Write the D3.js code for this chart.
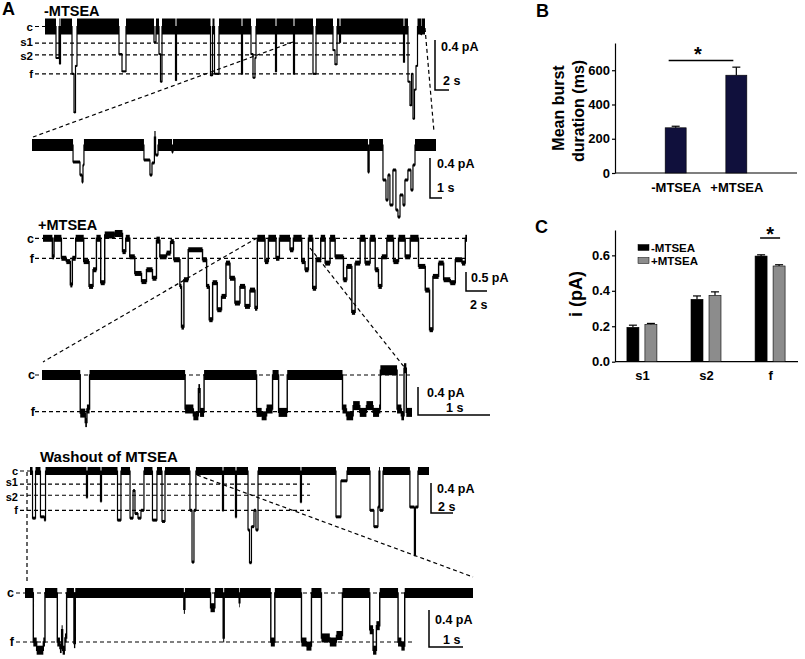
<!DOCTYPE html>
<html><head><meta charset="utf-8">
<script src="https://cdn.jsdelivr.net/npm/d3@7"></script>
<style>
body{margin:0;background:#fff}
svg{display:block;font-family:"Liberation Sans",Arial,Helvetica,sans-serif;font-weight:bold}
</style>
</head><body>
<svg id="fig" width="805" height="659"></svg>
<script>
// ---------- DATA ----------
// Single-channel traces: [time (s), current deflection below closed level (pA)], step-after
const traceMinus = [[0,0],[2.2,0.4],[2.8,0],[2.9,0.47],[3.1,0],[5.4,0.6],[5.8,1.09],[6.1,0.5],[6.4,0],[14.8,0.35],[15.4,0.57],[16.2,0],[21.8,0.2],[22.2,0],[22.8,0.35],[23.1,0.7],[23.4,0],[26.1,0.68],[26.3,0],[33.1,0.62],[33.5,0],[33.9,0.6],[34.8,0],[39.3,0.6],[39.5,0],[41.2,0.35],[41.6,0.65],[42.0,0.4],[42.2,0],[46.1,0.57],[46.3,0],[49.7,0.6],[49.9,0],[53.6,0.6],[54.2,0],[57.6,0.3],[58.0,0.48],[58.4,0],[58.9,0.2],[59.1,0],[71.7,0.45],[71.9,0],[72.6,0.7],[73.0,1.0],[73.3,0.6],[73.6,1.17],[73.9,0.8],[74.2,0.5],[74.5,0],[75.2,0.1],[75.3,0],[76,0]];
const traceMinusZoom = [[0,0],[3.42,0.17],[4.0,0.3],[4.17,0.37],[4.25,0.2],[4.33,0],[9.33,0.15],[9.83,0.3],[10.0,0.18],[10.2,-0.08],[10.3,0.1],[10.5,0],[11.67,0.07],[11.75,0],[28.0,0.27],[28.1,0],[29.25,0.35],[29.5,0.55],[29.67,0.3],[29.83,0.6],[30.08,0.25],[30.33,0.65],[30.5,0.72],[30.67,0.5],[30.92,0.6],[31.08,0.35],[31.33,0.25],[31.58,0.45],[31.75,0.2],[31.92,0],[33.67,0]];
const tracePlus = [[0,0],[0.89,0.5],[1.05,0],[1.75,0.54],[2.22,0.63],[2.6,1.26],[2.79,0.54],[3.11,0],[3.87,0.63],[4.38,1.3],[4.76,0.85],[5.08,0],[5.49,1.2],[5.87,-0.09],[6.83,-0.13],[7.56,0.36],[7.87,0],[8.25,0.5],[8.73,0.95],[9.37,1.17],[9.84,0.85],[10.41,1.08],[10.79,0.05],[11.11,0.5],[11.75,0.4],[12.13,0.09],[12.44,0.58],[13.02,1.3],[13.17,2.4],[13.4,1.12],[13.81,0.31],[15.17,0.58],[15.56,1.3],[15.81,2.2],[16.13,1.2],[16.57,1.93],[16.98,1.57],[17.4,0.67],[17.78,1.08],[18.25,1.75],[18.73,1.3],[19.21,1.84],[19.68,1.4],[20.16,1.89],[20.38,0],[21.11,0.63],[21.43,0],[22.16,0.54],[22.48,0],[23.49,0.31],[23.81,0],[24.6,0.63],[24.92,0.85],[25.24,0],[25.65,1.35],[25.97,0.58],[26.41,0],[26.83,0.67],[27.3,0],[27.78,0.5],[28.57,1.12],[28.89,0.76],[29.37,2.0],[29.68,0.67],[30.16,0],[30.63,0.67],[31.11,0],[31.59,0.85],[31.9,1.3],[32.22,0.5],[32.7,0],[33.33,0.63],[33.81,0],[34.44,0.5],[34.92,0],[35.71,0.76],[36.35,1.4],[36.76,2.47],[37.08,1.03],[37.62,0.67],[38.1,1.12],[38.73,1.2],[39.21,0.58],[39.84,0.67],[40.16,0],[40.32,0]];
const tracePlusZoom = [[0,0],[0.532,0.56],[0.602,0.7],[0.625,0.5],[0.662,0],[1.991,0.5],[2.106,0.6],[2.176,0.2],[2.199,0.55],[2.255,0],[2.986,0.55],[3.056,0.6],[3.125,0.5],[3.208,0],[3.292,0.55],[3.412,0],[4.181,0.5],[4.236,0.6],[4.329,0.45],[4.421,0.55],[4.514,0.45],[4.606,0.55],[4.69,0.5],[4.708,-0.07],[4.94,0.5],[5.0,0.6],[5.037,-0.1],[5.069,0.55],[5.148,0.55]];
const traceWash = [[0,0],[0.22,0.72],[0.48,0],[0.91,0.7],[1.26,0.75],[1.35,0],[4.91,0.4],[5.0,0],[6.13,0.46],[6.22,0],[7.61,0.75],[7.91,0],[8.7,0.72],[8.96,0.3],[9.13,0.65],[9.39,0.72],[9.65,0.6],[9.91,0],[10.65,0.75],[11.04,0],[11.48,0.77],[11.74,0],[13.91,0.6],[14.09,1.39],[14.26,0.6],[14.43,0],[16.74,0.6],[16.83,0],[17.87,0.7],[17.96,0],[18.96,0.9],[19.09,1.4],[19.26,0.85],[19.48,0.6],[19.65,0.9],[19.83,0],[23.52,0.47],[23.61,0],[26.61,0.7],[27.04,0.15],[27.57,0],[29.57,0.6],[29.91,0.85],[30.26,0.55],[30.35,0],[30.43,0.6],[30.7,0],[33.04,0.55],[33.43,1.28],[33.52,0.55],[33.74,0],[34.7,0]];
const traceWashZoom = [[0,0],[0.245,0.6],[0.343,0.7],[0.539,0.6],[0.588,0],[0.951,0.6],[1.029,0.68],[1.078,0.45],[1.108,0.7],[1.176,0.55],[1.225,0],[1.441,0.62],[1.48,0],[4.676,0.2],[4.706,0],[5.461,0.18],[5.588,0],[5.833,0.55],[5.863,0],[6.304,0.12],[6.324,0],[7.235,0.6],[7.353,0],[8.137,0.6],[8.284,0.65],[8.431,0],[8.725,0.55],[8.971,0.6],[9.167,0.52],[9.343,0],[10.147,0.45],[10.245,0.7],[10.343,0.4],[10.441,0],[10.98,0.6],[11.078,0.65],[11.176,0],[13.186,0]];

// Conductance levels (pA) marked by dashed lines
const levelsMinus = [["c",0],["s1",0.21],["s2",0.36],["f",0.6]];
const levelsPlus  = [["c",0],["f",0.54]];
const levelsWash  = [["c",0],["s1",0.2],["s2",0.37],["f",0.6]];
const levelsWashZoom = [["c",0],["f",0.6]];

// Panel B
const burstCategories = ["-MTSEA","+MTSEA"];
const burstMeans = [264, 571];
const burstErrors = [9, 47];
const burstTicks = [0,200,400,600];

// Panel C
const ampCategories = ["s1","s2","f"];
const ampSeries = ["-MTSEA","+MTSEA"];
const ampMinus = [0.194, 0.352, 0.596];
const ampMinusErr = [0.012, 0.019, 0.007];
const ampPlus = [0.210, 0.374, 0.540];
const ampPlusErr = [0.006, 0.020, 0.007];
const ampTicks = [0,0.2,0.4,0.6];

// ---------- DRAWING ----------
const svg = d3.select("#fig");
const ink = "#000";

function drawTrace(data, o){
  const g = svg.append("g");
  const x = d3.scaleLinear().domain([0, data[data.length-1][0]]).range(o.xr);
  const y = d3.scaleLinear().domain([0,1]).range([o.y0, o.y0 + o.k]);
  const iv = data.slice(0,-1).map((d,i)=>({t0:d[0], t1:data[i+1][0], v:d[1]}));
  g.selectAll("rect").data(iv).join("rect")
    .attr("x", d=>x(d.t0)).attr("width", d=>Math.max(0.6, x(d.t1)-x(d.t0)))
    .attr("y", d=>y(d.v) - (d.v<=0.05 ? o.hc : o.ho))
    .attr("height", d=>2*(d.v<=0.05 ? o.hc : o.ho))
    .attr("fill", ink);
  g.append("path").datum(data)
    .attr("d", d3.line().x(d=>x(d[0])).y(d=>y(d[1])).curve(d3.curveStepAfter))
    .attr("fill","none").attr("stroke",ink).attr("stroke-width",o.sw||1.2);
  return {x,y};
}
function drawLevels(levels, y, lab, spans, fs, nudges){
  levels.forEach((l,i)=>{
    const yy = y(l[1]);
    svg.append("line").attr("x1",spans[i][0]).attr("x2",spans[i][1]).attr("y1",yy).attr("y2",yy)
      .attr("stroke",ink).attr("stroke-width",1.2).attr("stroke-dasharray","4,3");
    svg.append("text").attr("x",lab).attr("y",yy + (nudges ? nudges[i] : 0)).attr("dy","0.35em").attr("text-anchor","end")
      .attr("font-size",fs||12.5).text(l[0]);
  });
}
function dashLine(x1,y1,x2,y2){
  svg.append("line").attr("x1",x1).attr("y1",y1).attr("x2",x2).attr("y2",y2)
    .attr("stroke",ink).attr("stroke-width",1.2).attr("stroke-dasharray","4,3");
}
function scaleBar(xv, yTop, yBot, xEnd, t1, p1, t2, p2){
  svg.append("path").attr("d",`M${xv},${yTop}V${yBot}H${xEnd}`).attr("fill","none").attr("stroke",ink).attr("stroke-width",1.5);
  svg.append("text").attr("x",p1[0]).attr("y",p1[1]).attr("font-size",12.5).text(t1);
  svg.append("text").attr("x",p2[0]).attr("y",p2[1]).attr("font-size",12.5).text(t2);
}
function label(t,x,y,fs){ svg.append("text").attr("x",x).attr("y",y).attr("font-size",fs).text(t); }

// Panel A
label("A",2,15,18);
label("-MTSEA",44,16,14.5);
const s1 = drawTrace(traceMinus,{xr:[45,425],y0:26.5,k:78.8,hc:8,ho:1});
drawLevels(levelsMinus, s1.y, 33, [[35,46],[35,411],[35,411],[35,411]], 11.5, [0,-1.5,1.5,0]);
scaleBar(435,40,90,449,"0.4 pA",[441,51],"2 s",[443,85]);
dashLine(293,42,33,137); dashLine(425,28,434,132);

const s2 = drawTrace(traceMinusZoom,{xr:[32,436],y0:145,k:100,hc:6,ho:1.5});
scaleBar(430,158,198,442,"0.4 pA",[437,168],"1 s",[437,192]);

label("+MTSEA",38,230,14.5);
const s3 = drawTrace(tracePlus,{xr:[43,467],y0:238.3,k:37,hc:3.5,ho:2.5,sw:1.4});
drawLevels(levelsPlus, s3.y, 34, [[35,466],[35,466]]);
scaleBar(466,272,291,487,"0.5 pA",[471,282],"2 s",[470,309]);
dashLine(257,238,43,362); dashLine(310,248,405,368);

const s4 = drawTrace(tracePlusZoom,{xr:[42,412],y0:375,k:68,hc:5,ho:4.5,sw:1.4});
drawLevels(levelsPlus, s4.y, 35, [[35,410],[35,410]]);
scaleBar(418,387,415,490,"0.4 pA",[427,397],"1 s",[446,412]);

label("Washout of MTSEA",40,462,15);
const s5 = drawTrace(traceWash,{xr:[30,429],y0:471,k:65.5,hc:4,ho:1.5});
drawLevels(levelsWash, s5.y, 18, [[20,31],[20,310],[20,310],[20,310]], 11, [0,-1.5,1.5,0]);
scaleBar(431,483,513,453,"0.4 pA",[437,493],"2 s",[438,511]);
dashLine(27,472,27,584); dashLine(197,475,473,577);

const s6 = drawTrace(traceWashZoom,{xr:[25,473],y0:593,k:81.7,hc:5,ho:4.5,sw:1.4});
drawLevels(levelsWashZoom, s6.y, 14, [[16,473],[16,413]]);
scaleBar(429,610,647,463,"0.4 pA",[435,624],"1 s",[443,644]);

// Panel B
label("B",536,17,18);
const yB = d3.scaleLinear().domain([0,759]).range([173,43]);
const xB = d3.scalePoint().domain(burstCategories).range([615,797]).padding(1.0);
const gB = svg.append("g");
gB.append("g").attr("transform","translate(615,0)")
  .call(d3.axisLeft(yB).tickValues(burstTicks).tickSize(3).tickSizeOuter(0).tickPadding(2))
  .call(g=>g.selectAll("text").attr("font-size",13).attr("fill",ink).attr("font-family",null))
  .call(g=>g.selectAll("path,line").attr("stroke",ink).attr("stroke-width",1.2));
gB.append("g").attr("transform","translate(0,173)")
  .call(d3.axisBottom(xB).tickSize(0).tickSizeOuter(0).tickPadding(10))
  .call(g=>g.selectAll("text").attr("font-size",13).attr("fill",ink).attr("font-family",null))
  .call(g=>g.select(".domain").attr("d","M615,0H797").attr("stroke",ink).attr("stroke-width",1.2));
const bw = 21;
burstCategories.forEach((c,i)=>{
  const cx = xB(c);
  gB.append("line").attr("x1",cx).attr("x2",cx).attr("y1",yB(burstMeans[i])).attr("y2",yB(burstMeans[i]+burstErrors[i])).attr("stroke",ink).attr("stroke-width",1.2);
  gB.append("line").attr("x1",cx-4).attr("x2",cx+4).attr("y1",yB(burstMeans[i]+burstErrors[i])).attr("y2",yB(burstMeans[i]+burstErrors[i])).attr("stroke",ink).attr("stroke-width",1.2);
  gB.append("rect").attr("x",cx-bw/2).attr("width",bw).attr("y",yB(burstMeans[i])).attr("height",yB(0)-yB(burstMeans[i]))
    .attr("fill","#10103c").attr("stroke","#000").attr("stroke-width",0.6);
});
gB.append("line").attr("x1",xB(burstCategories[0])-7).attr("x2",xB(burstCategories[1])-3).attr("y1",60.5).attr("y2",60.5).attr("stroke",ink).attr("stroke-width",1.5);
gB.append("text").attr("x",(xB(burstCategories[0])+xB(burstCategories[1]))/2-8).attr("y",61).attr("text-anchor","middle").attr("font-size",20).text("*");
gB.append("text").attr("transform","translate(558,108) rotate(-90)").attr("text-anchor","middle").attr("dy","0.35em").attr("font-size",16).text("Mean burst");
gB.append("text").attr("transform","translate(578,111) rotate(-90)").attr("text-anchor","middle").attr("dy","0.35em").attr("font-size",16).text("duration (ms)");

// Panel C
label("C",535,233,18);
const yC = d3.scaleLinear().domain([0,0.743]).range([361.7,230]);
const xC = d3.scalePoint().domain(ampCategories).range([615,797]).padding(0.42);
const xS = d3.scaleBand().domain(ampSeries).range([-15,15]).paddingInner(0.333);
const gC = svg.append("g");
gC.append("g").attr("transform","translate(615,0)")
  .call(d3.axisLeft(yC).tickValues(ampTicks).tickFormat(d3.format(".1f")).tickSize(3).tickSizeOuter(0).tickPadding(2))
  .call(g=>g.selectAll("text").attr("font-size",13).attr("fill",ink).attr("font-family",null))
  .call(g=>g.selectAll("path,line").attr("stroke",ink).attr("stroke-width",1.2));
gC.append("g").attr("transform","translate(0,361.7)")
  .call(d3.axisBottom(xC).tickSize(0).tickSizeOuter(0).tickPadding(9))
  .call(g=>g.selectAll("text").attr("font-size",13).attr("fill",ink).attr("font-family",null))
  .call(g=>g.select(".domain").attr("d","M615,0H798").attr("stroke",ink).attr("stroke-width",1.2));
const seriesVals = [[ampMinus,ampMinusErr,"#000"],[ampPlus,ampPlusErr,"#8c8c8c"]];
ampCategories.forEach((c,i)=>{
  seriesVals.forEach((s,j)=>{
    const x0 = xC(c) + xS(ampSeries[j]), w = xS.bandwidth(), v = s[0][i], e = s[1][i];
    gC.append("line").attr("x1",x0+w/2).attr("x2",x0+w/2).attr("y1",yC(v)).attr("y2",yC(v+e)).attr("stroke",ink).attr("stroke-width",1.2);
    gC.append("line").attr("x1",x0+w/2-4).attr("x2",x0+w/2+4).attr("y1",yC(v+e)).attr("y2",yC(v+e)).attr("stroke",ink).attr("stroke-width",1.2);
    gC.append("rect").attr("x",x0).attr("width",w).attr("y",yC(v)).attr("height",yC(0)-yC(v))
      .attr("fill",s[2]).attr("stroke","#000").attr("stroke-width",0.6);
  });
});
gC.append("line").attr("x1",xC("f")-10).attr("x2",xC("f")+10).attr("y1",238).attr("y2",238).attr("stroke",ink).attr("stroke-width",1.5);
gC.append("text").attr("x",xC("f")).attr("y",241).attr("text-anchor","middle").attr("font-size",20).text("*");
gC.append("text").attr("transform","translate(576,294) rotate(-90)").attr("text-anchor","middle").attr("dy","0.35em").attr("font-size",18).text("i (pA)");
// legend
ampSeries.forEach((s,j)=>{
  gC.append("rect").attr("x",638).attr("y",244.5+j*13).attr("width",11).attr("height",6).attr("fill",seriesVals[j][2]).attr("stroke","#000").attr("stroke-width",0.5);
  gC.append("text").attr("x",651).attr("y",251.5+j*13).attr("font-size",11.5).text(s);
});
</script>
</body></html>
